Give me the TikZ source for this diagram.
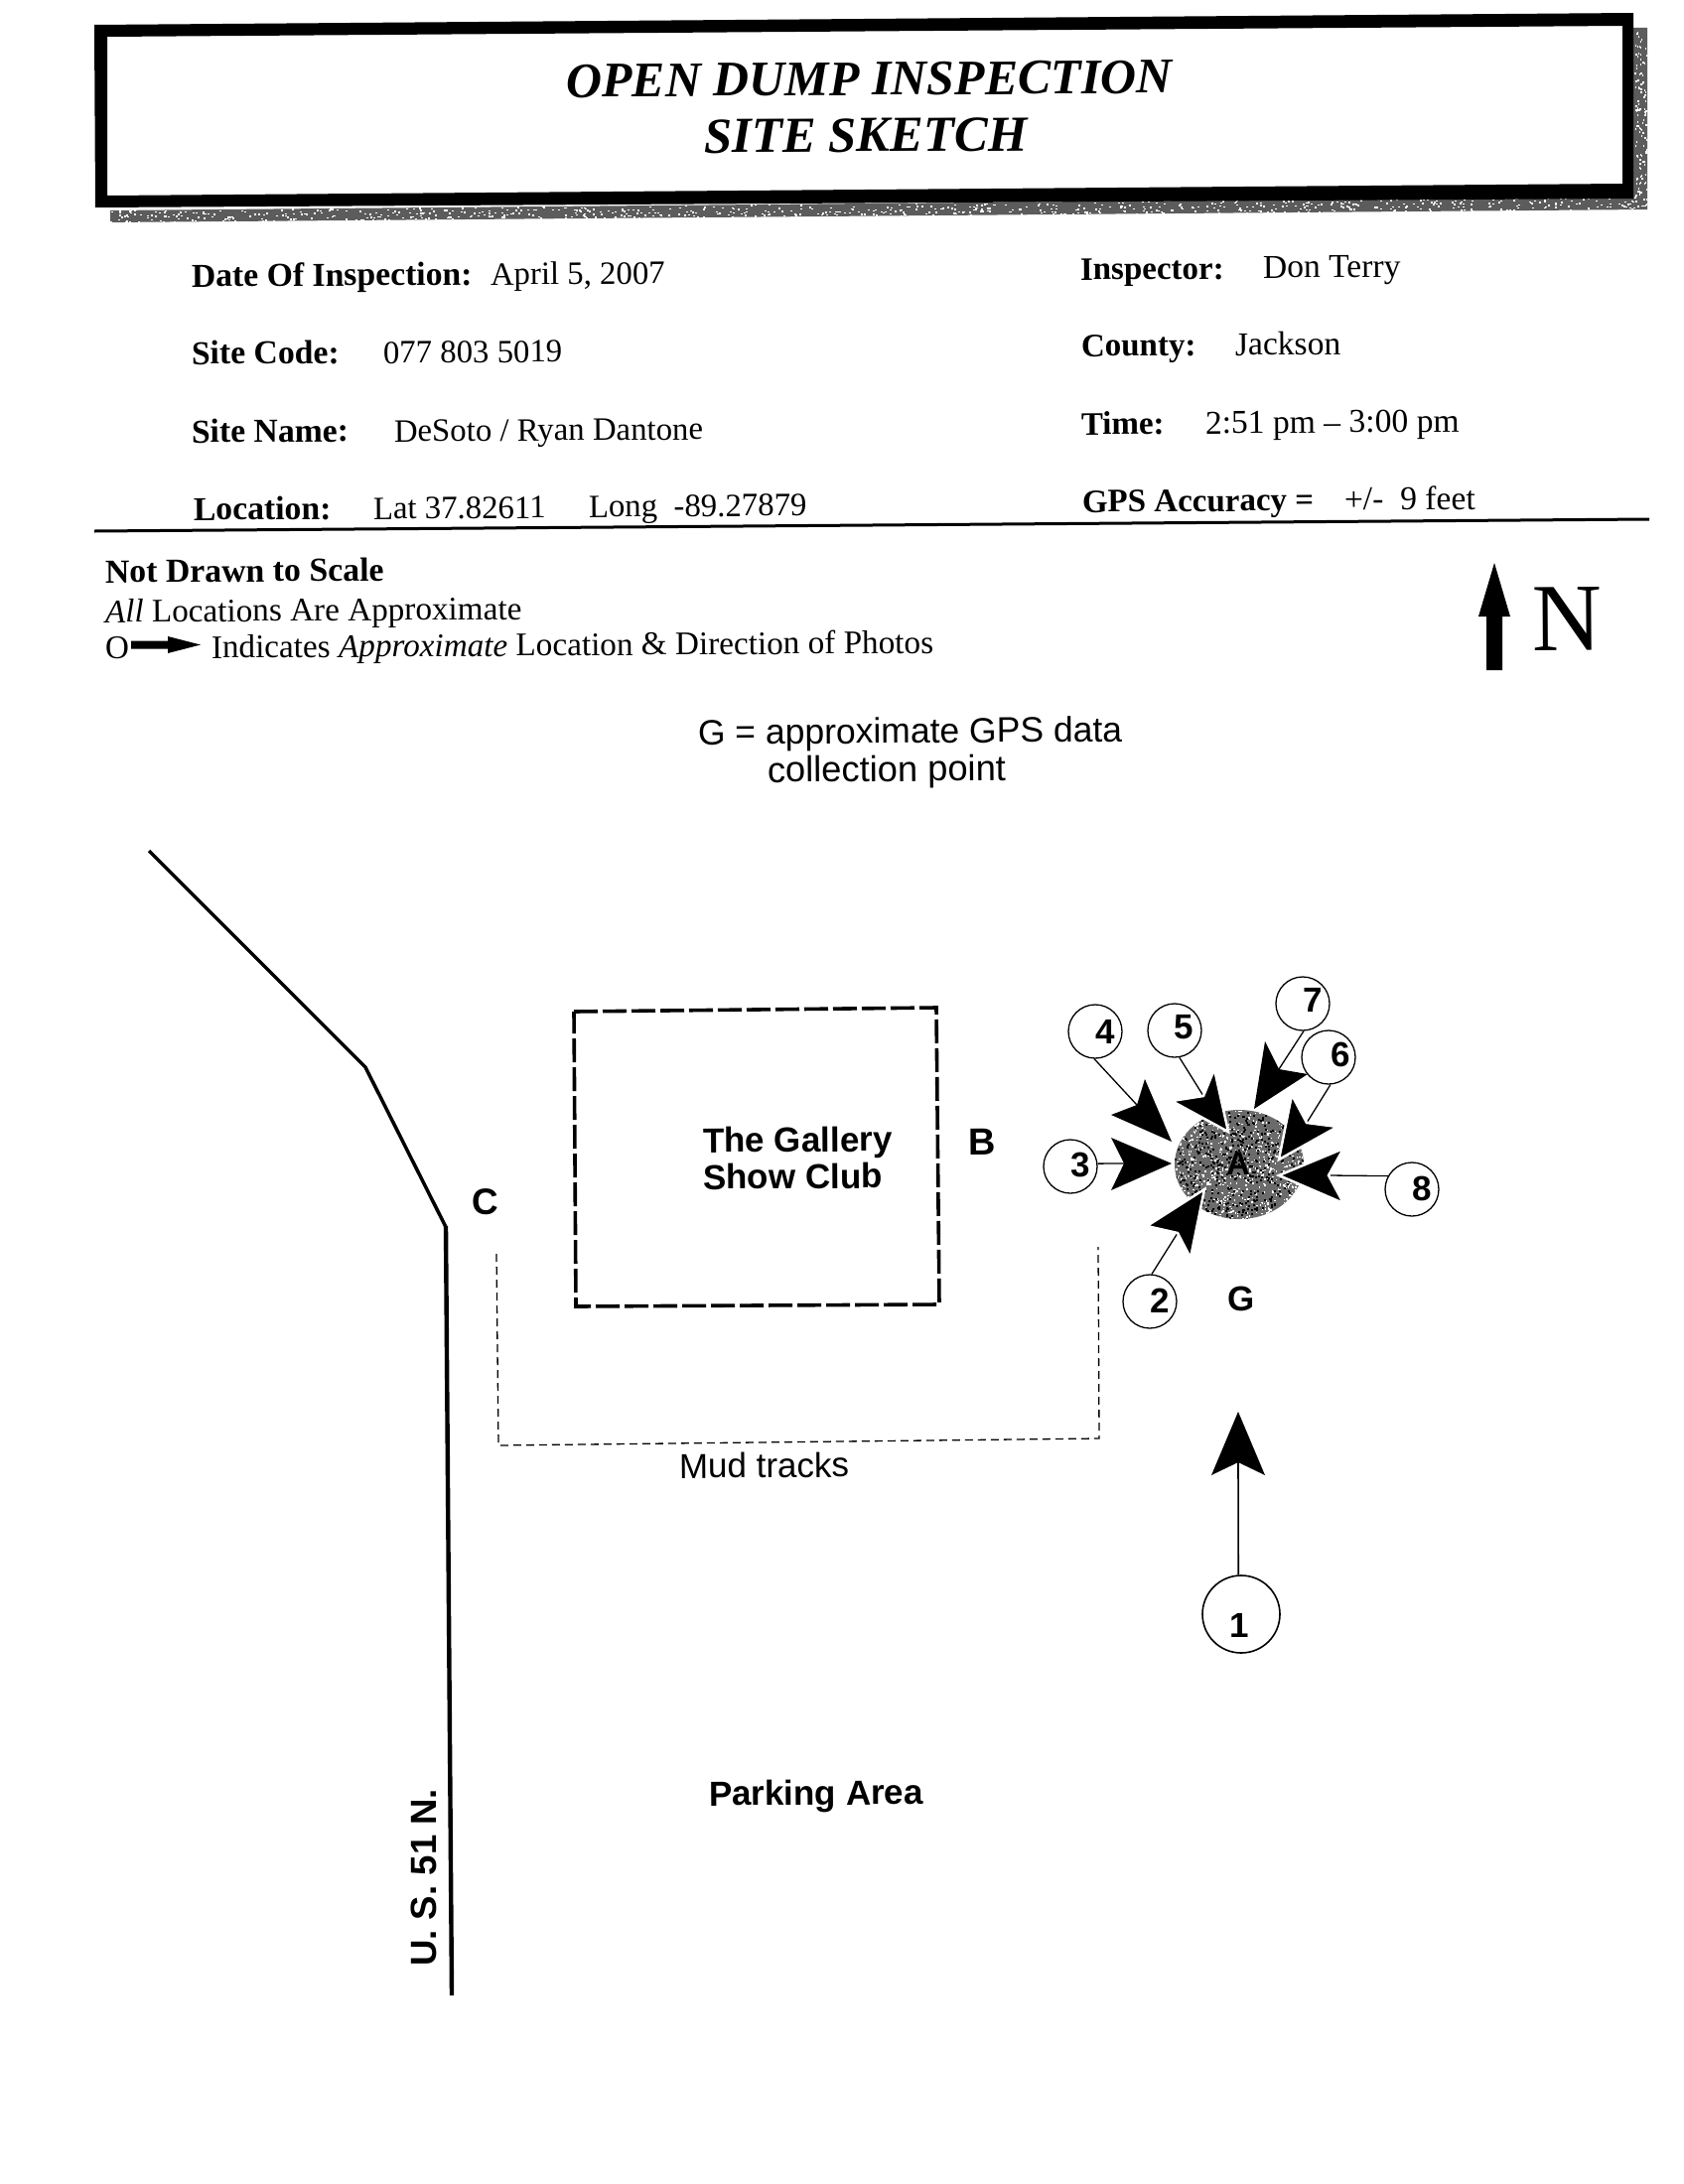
\documentclass[tikz,border=0pt]{standalone}
\usepackage{fontspec}
\setmainfont{Liberation Serif}
\newfontfamily\arsans{Liberation Sans}
\tikzset{
  txt/.style={anchor=base west,inner sep=0pt,outer sep=0pt,rotate=0.4},
  lab/.style={txt,font=\fontsize{33.7}{36}\selectfont\bfseries},
  labr/.style={txt,font=\fontsize{33}{36}\selectfont\bfseries},
  val/.style={txt,font=\fontsize{32.8}{36}\selectfont},
  valr/.style={txt,font=\fontsize{33.6}{36}\selectfont},
  leg/.style={txt,font=\fontsize{33.2}{36}\selectfont},
  ttl/.style={txt,font=\fontsize{50}{54}\selectfont\bfseries\itshape},
  sans/.style={txt,font=\fontsize{35}{38}\selectfont\arsans},
  sansb/.style={txt,font=\fontsize{35}{38}\selectfont\arsans\bfseries},
  photo/.style={circle,draw=black,line width=1.3pt,fill=white,inner sep=0pt,minimum size=54pt},
  digit/.style={inner sep=0pt,font=\fontsize{35}{38}\selectfont\arsans\bfseries},
  lead/.style={draw=black,line width=1.3pt},
  head/.style={fill=black,draw=white,line width=2.5pt,line join=miter},
  headk/.style={fill=black},
}
\begin{document}
\begin{tikzpicture}[x=1pt,y=-1pt]
\useasboundingbox (0,0) rectangle (1696,2200);
\fill[white] (0,0) rectangle (1696,2200);
% ---------- shadow strip
\fill[black!64] (111,224) -- (1659,211) -- (1659,28) -- (1645,28) -- (1645,198) -- (111,212) -- cycle;
\pgfmathsetseed{11}
\foreach \i in {1,...,700}{
  \pgfmathsetmacro{\px}{111+rnd*1548}
  \pgfmathsetmacro{\py}{223.5-(\px-111)*0.0084-rnd*12}
  \fill[white] (\px,\py) rectangle +(2,1.4);
}
\foreach \i in {1,...,120}{
  \pgfmathsetmacro{\py}{28+rnd*180}
  \pgfmathsetmacro{\px}{1646+rnd*12}
  \fill[white] (\px,\py) rectangle +(1.4,2);
}
% ---------- title frame
\fill[black,even odd rule] (95,25) -- (1645,13) -- (1645,200) -- (96,209) -- cycle
  (108,37) -- (1634,26) -- (1634,185) -- (108,197) -- cycle;
\node[ttl] (t1) at (570,98) {OPEN DUMP INSPECTION};
\node[ttl,font=\fontsize{50.8}{54}\selectfont\bfseries\itshape] (t2) at (709,154) {SITE SKETCH};
% ---------- header fields
\node[lab] (l1) at (193,289) {Date Of Inspection:};
\node[val] (v1) at (494,287) {April 5, 2007};
\node[lab] (l2) at (193,367) {Site Code:};
\node[val] (v2) at (386,366) {077 803 5019};
\node[lab] (l3) at (193,446) {Site Name:};
\node[val] (v3) at (397,445) {DeSoto / Ryan Dantone};
\node[lab] (l4) at (195,524) {Location:};
\node[val] (v4) at (376,523) {Lat 37.82611};
\node[val] (v4b) at (593,521) {Long\ \ -89.27879};
\node[labr] (r1) at (1088,282) {Inspector:};
\node[valr] (w1) at (1272,280) {Don Terry};
\node[labr] (r2) at (1089,359) {County:};
\node[valr] (w2) at (1244,358) {Jackson};
\node[labr] (r3) at (1089,438) {Time:};
\node[valr] (w3) at (1214,437) {2:51 pm -- 3:00 pm};
\node[labr] (r4) at (1090,516) {GPS Accuracy =};
\node[valr] (w4) at (1354,514) {+/-\ \ 9 feet};
\draw[black,line width=3pt] (95,535) -- (1661,523);
% ---------- legend
\node[leg,font=\fontsize{33.8}{36}\selectfont\bfseries] (g1) at (106,587) {Not Drawn to Scale};
\node[leg] (g2) at (106,627) {\textit{All} Locations Are Approximate};
\node[leg] (g3) at (106,663) {O};
\fill[black] (132,645.5) -- (169,645.5) -- (169,641) -- (202,649.5) -- (169,658) -- (169,653.5) -- (132,653.5) -- cycle;
\node[leg] (g4) at (213,663) {Indicates \textit{Approximate} Location \& Direction of Photos};
% ---------- north
\fill[black] (1505,567) -- (1521,621) -- (1513,621) -- (1513,675) -- (1497,675) -- (1497,621) -- (1489,621) -- cycle;
\node[txt,font=\fontsize{97}{100}\selectfont] (north) at (1543,655) {N};
% ---------- GPS note
\node[sans,font=\fontsize{35.5}{40}\selectfont\arsans] (n1) at (703,750) {G = approximate GPS data};
\node[sans,font=\fontsize{36.3}{40}\selectfont\arsans] (n2) at (773,788) {collection point};
% ---------- road
\draw[black,line width=3.5pt,line join=miter] (150,857) -- (368,1075) -- (449,1236);
\draw[black,line width=4.4pt] (449,1235) -- (455,2010);
\node[font=\fontsize{36.6}{38}\selectfont\arsans\bfseries,rotate=90,anchor=base west,inner sep=0pt] (us) at (439,1981) {U. S. 51 N.};
\node[sansb,font=\fontsize{37}{40}\selectfont\arsans\bfseries] (cc) at (475,1223) {C};
\node[sansb,font=\fontsize{38}{40}\selectfont\arsans\bfseries] (bb) at (975,1163) {B};
% ---------- building
\draw[black,line width=3.6pt,dash pattern=on 24pt off 5pt,line join=miter] (578,1019) -- (943,1015) -- (946,1314) -- (580,1316) -- cycle;
\node[sansb] (s1) at (708,1161) {The Gallery};
\node[sansb] (s2) at (708,1198) {Show Club};
% ---------- mud tracks
\draw[black,line width=1.3pt,dash pattern=on 8pt off 5pt] (500,1263) -- (502,1456) -- (1107,1449) -- (1106,1256);
\node[sans] (mud) at (684,1489) {Mud tracks};
\node[sansb] (park) at (714,1819) {Parking Area};
% ---------- dump area A
\begin{scope}
\clip (1248,1173) ellipse [x radius=65, y radius=55];
\fill[black!58] (1180,1115) rectangle (1316,1231);
\foreach \i in {1,...,800}{
  \pgfmathsetmacro{\px}{1183+rnd*130}
  \pgfmathsetmacro{\py}{1118+rnd*110}
  \fill[white] (\px,\py) rectangle +(1.5,1.5);
}
\foreach \i in {1,...,500}{
  \pgfmathsetmacro{\px}{1183+rnd*130}
  \pgfmathsetmacro{\py}{1118+rnd*110}
  \fill[black] (\px,\py) rectangle +(2,2);
}
\end{scope}
\node[digit,font=\fontsize{33}{36}\selectfont\arsans\bfseries,text=black] (aa) at (1247,1172) {A};
\node[digit] (gg) at (1250,1308) {G};
% ---------- photo points
\node[photo] (c4) at (1103,1039) {};
\node[photo] (c5) at (1183,1038) {};
\node[photo] (c7) at (1312,1011) {};
\node[photo] (c6) at (1338,1065) {};
\node[photo] (c3) at (1078,1175) {};
\node[photo] (c8) at (1422,1198) {};
\node[photo] (c2) at (1158,1311) {};
\node[photo,minimum size=78pt,line width=1.6pt] (c1) at (1250,1626) {};
\node[digit] (d4) at (1113,1039) {4};
\node[digit] (d5) at (1192,1035) {5};
\node[digit] (d7) at (1322,1007) {7};
\node[digit] (d6) at (1350,1062) {6};
\node[digit] (d3) at (1088,1173) {3};
\node[digit] (d8) at (1432,1197) {8};
\node[digit] (d2) at (1168,1310) {2};
\node[digit] (d1) at (1248,1637) {1};
% notches of the arrowheads
\coordinate (n4) at (1145,1113);
\coordinate (n5) at (1212,1104);
\coordinate (n7) at (1288,1077);
\coordinate (n6) at (1316,1131);
\coordinate (n3) at (1132,1172);
\coordinate (n8) at (1338,1184);
\coordinate (n2) at (1186,1242);
\coordinate (nn1) at (1247,1473);
\foreach \c/\a/\n in {c4/268/n4,c5/280/n5,c7/272/n7,c6/274/n6,c3/6/n3,c8/151/n8,c2/86/n2}{\draw[lead] (\c.\a) -- (\n);}
\draw[lead,line width=1.6pt] (c1.94) -- (nn1);
% arrowheads
\path[headk] (1180,1150) -- (1153,1087) -- (n4) -- (1119,1123) -- cycle;
\path[head] (1237,1140) -- (1223,1077) -- (n5) -- (1180,1109) -- cycle;
\path[headk] (1263,1117) -- (1274,1049) -- (n7) -- (1317,1082) -- cycle;
\path[head] (1288,1168) -- (1301,1103) -- (n6) -- (1347,1135) -- cycle;
\path[headk] (1180,1172) -- (1119,1146) -- (n3) -- (1119,1199) -- cycle;
\path[head] (1288,1184) -- (1353,1157) -- (n8) -- (1353,1212) -- cycle;
\path[head] (1213,1198) -- (1155,1235) -- (n2) -- (1199,1267) -- cycle;
\path[headk] (1247,1422) -- (1220,1486) -- (nn1) -- (1274,1486) -- cycle;
\end{tikzpicture}
\end{document}
